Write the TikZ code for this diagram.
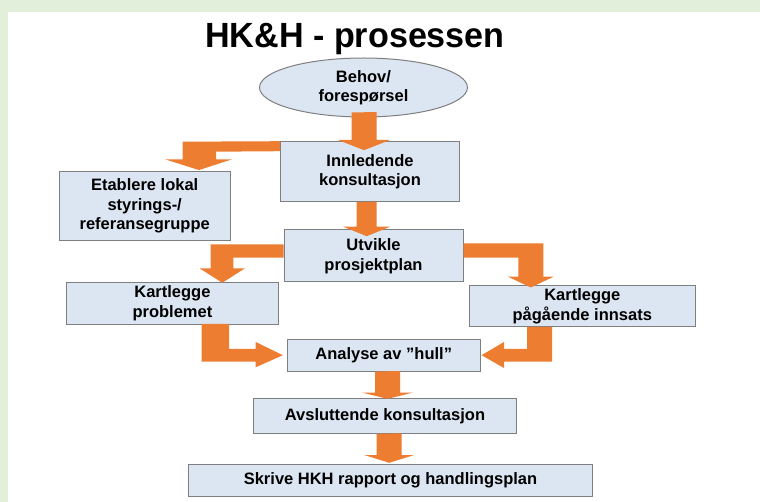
\documentclass[tikz,border=0pt]{standalone}
\usepackage{fontspec}
\usepackage{graphicx}
\setmainfont{Liberation Sans}
\usetikzlibrary{shapes.geometric,calc}
\definecolor{boxfill}{RGB}{220,230,242}
\definecolor{boxline}{RGB}{127,127,127}
\definecolor{arrfill}{RGB}{237,125,49}
\definecolor{bggreen}{RGB}{226,239,218}
\begin{document}
\begin{tikzpicture}[x=1pt,y=-1pt,
  box/.style={draw=boxline, line width=1pt, fill=boxfill, align=center, inner sep=0pt,
    font=\bfseries\fontsize{16.5}{19.5}\selectfont},
  arr/.style={fill=arrfill}]
  % slide background
  \fill[bggreen] (0,0) rectangle (760,502);
  \fill[white] (7.7,11.7) rectangle (760,502);
  \useasboundingbox (0,0) rectangle (760,502);
  % title
  \node[anchor=base, font=\bfseries\fontsize{35}{35}\selectfont] (title) at (355,48) {\scalebox{0.975}[1]{HK\&H - prosessen}};
  % boxes
  \node[box, ellipse, minimum width=208pt, minimum height=59pt] (behov) at (363.5,87.5) {Behov/\\forespørsel};
  \node[box, minimum width=178.6pt, minimum height=60pt] (innl) at (370,171.7) {Innledende\\konsultasjon};
  \node[box, minimum width=170.7pt, minimum height=68.3pt] (etabl) at (144.7,205.9) {Etablere lokal\\styrings-/\\referansegruppe};
  \node[box, minimum width=179pt, minimum height=52pt] (utvikle) at (373.5,256) {Utvikle\\prosjektplan};
  \node[box, minimum width=211.3pt, minimum height=41.3pt] (problem) at (172.4,303.4) {Kartlegge\\problemet};
  \node[box, minimum width=226.5pt, minimum height=41pt] (innsats) at (582.3,306.5) {Kartlegge\\pågående innsats};
  \node[box, minimum width=192.7pt, minimum height=31.7pt] (analyse) at (383.7,355.2) {Analyse av ”hull”};
  \node[box, minimum width=263.4pt, minimum height=35pt] (avslutt) at (385,415.8) {Avsluttende konsultasjon};
  \node[box, minimum width=404.4pt, minimum height=32pt] (rapport) at (390.5,480) {Skrive HKH rapport og handlingsplan};
  % block arrows
  \fill[arr] ($(behov.south)+(-11.8,-5)$) -- (376.7,112) -- (376.7,140) -- (390,140)
    -- ($(innl.north)+(-6,9)$) -- (338,140) -- (351.7,140) -- cycle;
  \fill[arr] (innl.north west) -- (182.7,141.7) -- (182.7,159.3) -- (165,159.3)
    -- ($(etabl.north)+(54.3,-1.2)$) -- (232,159.3) -- (216,159.3) -- (216,151.7)
    -- ($(innl.north west)+(0,10)$) -- cycle;
  \fill[arr] ($(innl.south)+(-13.3,0)$) -- (376.7,201.7) -- (376.7,226.7) -- (390.2,226.7)
    -- ($(utvikle.north)+(-6.8,6.7)$) -- (343.2,226.7) -- (356.7,226.7) -- cycle;
  \fill[arr] ($(utvikle.west)+(0,-11.7)$) -- (210.7,244.3) -- (210.7,268.3) -- (199.5,268.3)
    -- ($(problem.north)+(49.9,0.5)$) -- (245,268.3) -- (233.3,268.3) -- (233.3,257.7)
    -- ($(utvikle.west)+(0,1.7)$) -- cycle;
  \fill[arr] ($(utvikle.east)+(0,-12.7)$) -- (543.3,243.3) -- (543.3,276.7) -- (553.6,276.7)
    -- ($(innsats.north)+(-51.5,2)$) -- (508,276.7) -- (518.3,276.7) -- (518.3,257.7)
    -- ($(utvikle.east)+(0,1.7)$) -- cycle;
  \fill[arr] (201.7,324) -- (201.7,361.7) -- (255.7,361.7) -- (255.7,367.3)
    -- ($(analyse.west)+(-4,0)$) -- (255.7,342) -- (255.7,349) -- (229,349) -- (229,324) -- cycle;
  \fill[arr] (552,327) -- (552,361.7) -- (504,361.7) -- (504,368)
    -- ($(analyse.east)+(1,0)$) -- (504,342) -- (504,349) -- (527,349) -- (527,327) -- cycle;
  \fill[arr] ($(analyse.south)+(-8.7,0)$) -- (400,371) -- (400,392.7) -- (412.5,392.7)
    -- ($(avslutt.north)+(2.5,1)$) -- (362.5,392.7) -- (375,392.7) -- cycle;
  \fill[arr] ($(avslutt.south)+(-8.3,0)$) -- (401.7,433.3) -- (401.7,455) -- (414.2,455)
    -- ($(rapport.north)+(-1.3,-0.7)$) -- (364.2,455) -- (376.7,455) -- cycle;
\end{tikzpicture}
\end{document}
